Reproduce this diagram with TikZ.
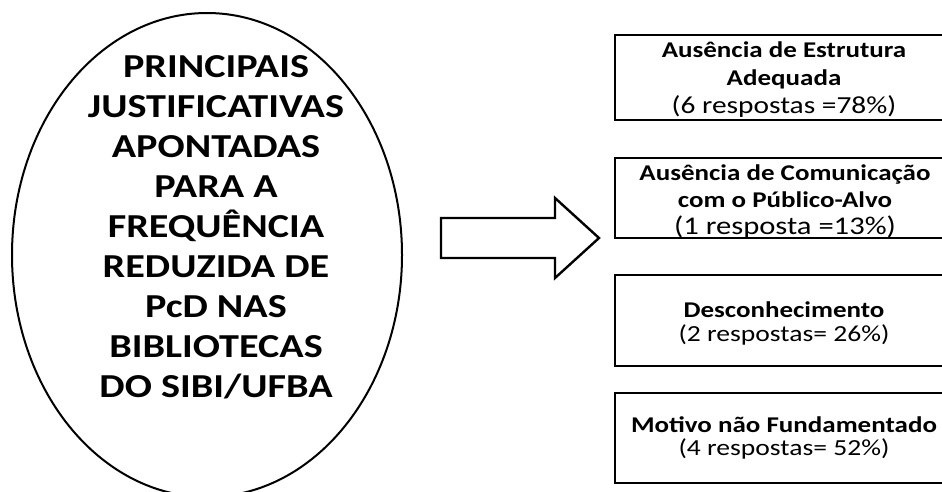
\documentclass[tikz,border=0pt]{standalone}
\usepackage{fontspec}
\setmainfont{Carlito}[FakeStretch=1.2]
\usetikzlibrary{shapes.geometric}
\begin{document}
\begin{tikzpicture}[x=1pt,y=-1pt,
  boxstyle/.style={draw=black,line width=2.6pt,rectangle,inner sep=0pt},
  boxtext/.style={align=center,inner sep=0pt,font=\fontsize{22.5}{28}\selectfont},
  bigtext/.style={align=center,inner sep=0pt,font=\fontsize{33.5}{40}\selectfont\bfseries}]
\useasboundingbox (0,0) rectangle (942,492);
\clip (0,0) rectangle (942,492);
\fill[white] (0,0) rectangle (942,492);
% ellipse
\coordinate (ell) at (207,255);
\draw[line width=2pt] (ell) ellipse [x radius=195, y radius=242];
\node[bigtext] (title) at (216,227.5) {PRINCIPAIS\\JUSTIFICATIVAS\\APONTADAS\\PARA A\\FREQUÊNCIA\\REDUZIDA DE\\PcD NAS\\BIBLIOTECAS\\DO SIBI/UFBA};
% arrow
\coordinate (atail) at (441,238);
\coordinate (atip) at (599,238);
\draw[line width=2.4pt,line join=miter,fill=white] (atail) ++(0,-20) -- (555,218) -- (555,198) -- (atip) -- (555,278) -- (555,258) -- (441,258) -- cycle;
% boxes
\node[boxstyle,minimum width=338pt,minimum height=85pt] (b1) at (784,77.5) {};
\node[boxstyle,minimum width=338pt,minimum height=80pt] (b2) at (784,198) {};
\node[boxstyle,minimum width=338pt,minimum height=91pt] (b3) at (784,320.5) {};
\node[boxstyle,minimum width=338pt,minimum height=90pt] (b4) at (784,438) {};
\node[boxtext] (t1) at (784,80) {\textbf{Ausência de Estrutura}\\\textbf{Adequada}\\{\fontsize{24.5}{28}\selectfont (6 respostas =78\%)}};
\node[boxtext,font=\fontsize{22.5}{27}\selectfont] (t2) at (785,202) {\textbf{Ausência de Comunicação}\\\textbf{com o Público-Alvo}\\{\fontsize{25.5}{27}\selectfont (1 resposta =13\%)}};
\node[boxtext,font=\fontsize{22.5}{24}\selectfont] (t3) at (784,323) {\textbf{Desconhecimento}\\{\fontsize{23}{24}\selectfont (2 respostas= 26\%)}};
\node[boxtext,font=\fontsize{22.5}{23}\selectfont] (t4) at (784,438) {\textbf{Motivo não Fundamentado}\\{\fontsize{23}{23}\selectfont (4 respostas= 52\%)}};
\end{tikzpicture}
\end{document}
